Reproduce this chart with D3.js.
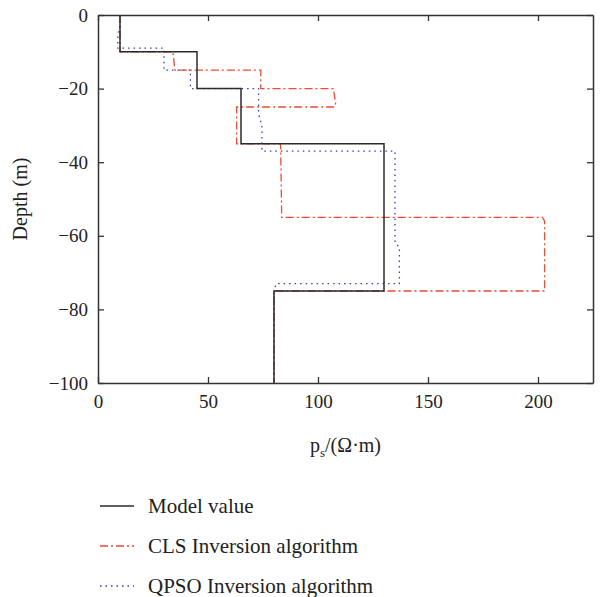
<!DOCTYPE html>
<html>
<head>
<meta charset="utf-8">
<script src="https://cdn.jsdelivr.net/npm/d3@7"></script>
<style>
  body { margin: 0; background: #fff; }
  text { font-family: "Liberation Serif", "DejaVu Serif", serif; fill: #222; }
</style>
</head>
<body>
<script>
(function(){

  //resistivity (ohm*m) and depth (m) of each step line
  var modelRho = [10, 10, 45, 45, 65, 65, 130, 130, 80, 80];
  var modelDepth = [0, -10, -10, -20, -20, -35, -35, -75, -75, -100];

  var clsRho = [10, 10, 34, 35, 74, 74, 107, 108, 107.5, 63, 63, 83, 83.5, 202, 203, 203, 80, 80];
  var clsDepth = [0, -10, -10, -15, -15, -20, -20, -24, -25, -25, -35, -35, -55, -55, -56, -75, -75, -100];

  var qpsoRho = [10, 10, 9, 9, 30, 30, 42, 42, 73, 73, 74.5, 74.5, 135, 135, 137, 137, 81, 80, 80];
  var qpsoDepth = [0, -4, -5, -9, -9, -15, -15, -20, -20, -27, -30, -37, -37, -62, -63, -73, -73, -75, -100];

  var xTicks = [0, 50, 100, 150, 200];
  var yTicks = [0, -20, -40, -60, -80, -100];

  var seriesNames = ["Model value", "CLS Inversion algorithm", "QPSO Inversion algorithm"];
  var seriesColors = ["#2b2b2b", "#ee4b32", "#3a3ab4"];
  var seriesDash = [null, "8,3,2,3", "1.5,4"];

  var width = 609, height = 597;
  var margin = {left: 98, top: 15, right: 16, bottom: 214};

  var svg = d3.select("body") //main svg
    .append("svg")
    .attr("width", width)
    .attr("height", height);

  var x = d3.scaleLinear()
    .domain([0, 225])
    .range([margin.left, width - margin.right]);

  var y = d3.scaleLinear()
    .domain([-100, 0])
    .range([height - margin.bottom, margin.top]);

  var toPoints = function(rho, depth){
    return rho.map(function(d, i){ return [d, depth[i]]; });
  };
  var series = [toPoints(modelRho, modelDepth), toPoints(clsRho, clsDepth), toPoints(qpsoRho, qpsoDepth)];

  var line = d3.line()
    .x(function(d){ return x(d[0]); })
    .y(function(d){ return y(d[1]); });

  //draw the lines, qpso and cls under the model line
  [2, 1, 0].forEach(function(i){
    svg.append("path")
      .datum(series[i])
      .attr("d", line)
      .attr("fill", "none")
      .attr("stroke", seriesColors[i])
      .attr("stroke-width", i == 0 ? 1.5 : 1.3)
      .attr("stroke-dasharray", seriesDash[i]);
  });

  //axes with inward ticks on all four sides
  var axisColor = "#333";
  var bottomAxis = svg.append("g")
    .attr("transform", "translate(0," + y(-100) + ")")
    .call(d3.axisBottom(x).tickValues(xTicks).tickSizeInner(-6).tickSizeOuter(0).tickPadding(12));
  var topAxis = svg.append("g")
    .attr("transform", "translate(0," + y(0) + ")")
    .call(d3.axisTop(x).tickValues(xTicks).tickSizeInner(-6).tickSizeOuter(0).tickFormat(""));
  var leftAxis = svg.append("g")
    .attr("transform", "translate(" + x(0) + ",0)")
    .call(d3.axisLeft(y).tickValues(yTicks).tickSizeInner(-6).tickSizeOuter(0).tickPadding(10)
      .tickFormat(function(d){ return d < 0 ? "\u2212" + Math.abs(d) : d; }));
  var rightAxis = svg.append("g")
    .attr("transform", "translate(" + x(225) + ",0)")
    .call(d3.axisRight(y).tickValues(yTicks).tickSizeInner(-6).tickSizeOuter(0).tickFormat(""));

  [bottomAxis, topAxis, leftAxis, rightAxis].forEach(function(g){
    g.select(".domain").attr("stroke", axisColor).attr("stroke-width", 1.5);
    g.selectAll(".tick line").attr("stroke", axisColor).attr("stroke-width", 1.3);
    g.selectAll(".tick text")
      .attr("font-family", "Liberation Serif, DejaVu Serif, serif")
      .attr("font-size", 19)
      .attr("fill", "#222");
  });

  //axis titles
  var xTitle = svg.append("text")
    .attr("x", (x(0) + x(225)) / 2)
    .attr("y", 452)
    .attr("text-anchor", "middle")
    .attr("font-size", 20);
  xTitle.append("tspan").text("p");
  xTitle.append("tspan").attr("font-size", 13).attr("dy", 5).text("s");
  xTitle.append("tspan").attr("dy", -5).text("/(\u03A9\u00B7m)");

  svg.append("text")
    .attr("transform", "translate(27," + ((y(0) + y(-100)) / 2) + ") rotate(-90)")
    .attr("text-anchor", "middle")
    .attr("font-size", 20)
    .text("Depth (m)");

  //legend
  var legend = svg.selectAll(".legendItem")
    .data(seriesNames)
    .enter()
    .append("g")
    .attr("class", "legendItem")
    .attr("transform", function(d, i){ return "translate(100," + (506 + i * 40) + ")"; });

  legend.append("line")
    .attr("x1", 0).attr("x2", 34)
    .attr("stroke", function(d, i){ return seriesColors[i]; })
    .attr("stroke-width", 1.4)
    .attr("stroke-dasharray", function(d, i){ return seriesDash[i]; });

  legend.append("text")
    .attr("x", 48)
    .attr("y", 7)
    .attr("font-size", 21)
    .text(function(d){ return d; });

})();
</script>
</body>
</html>
